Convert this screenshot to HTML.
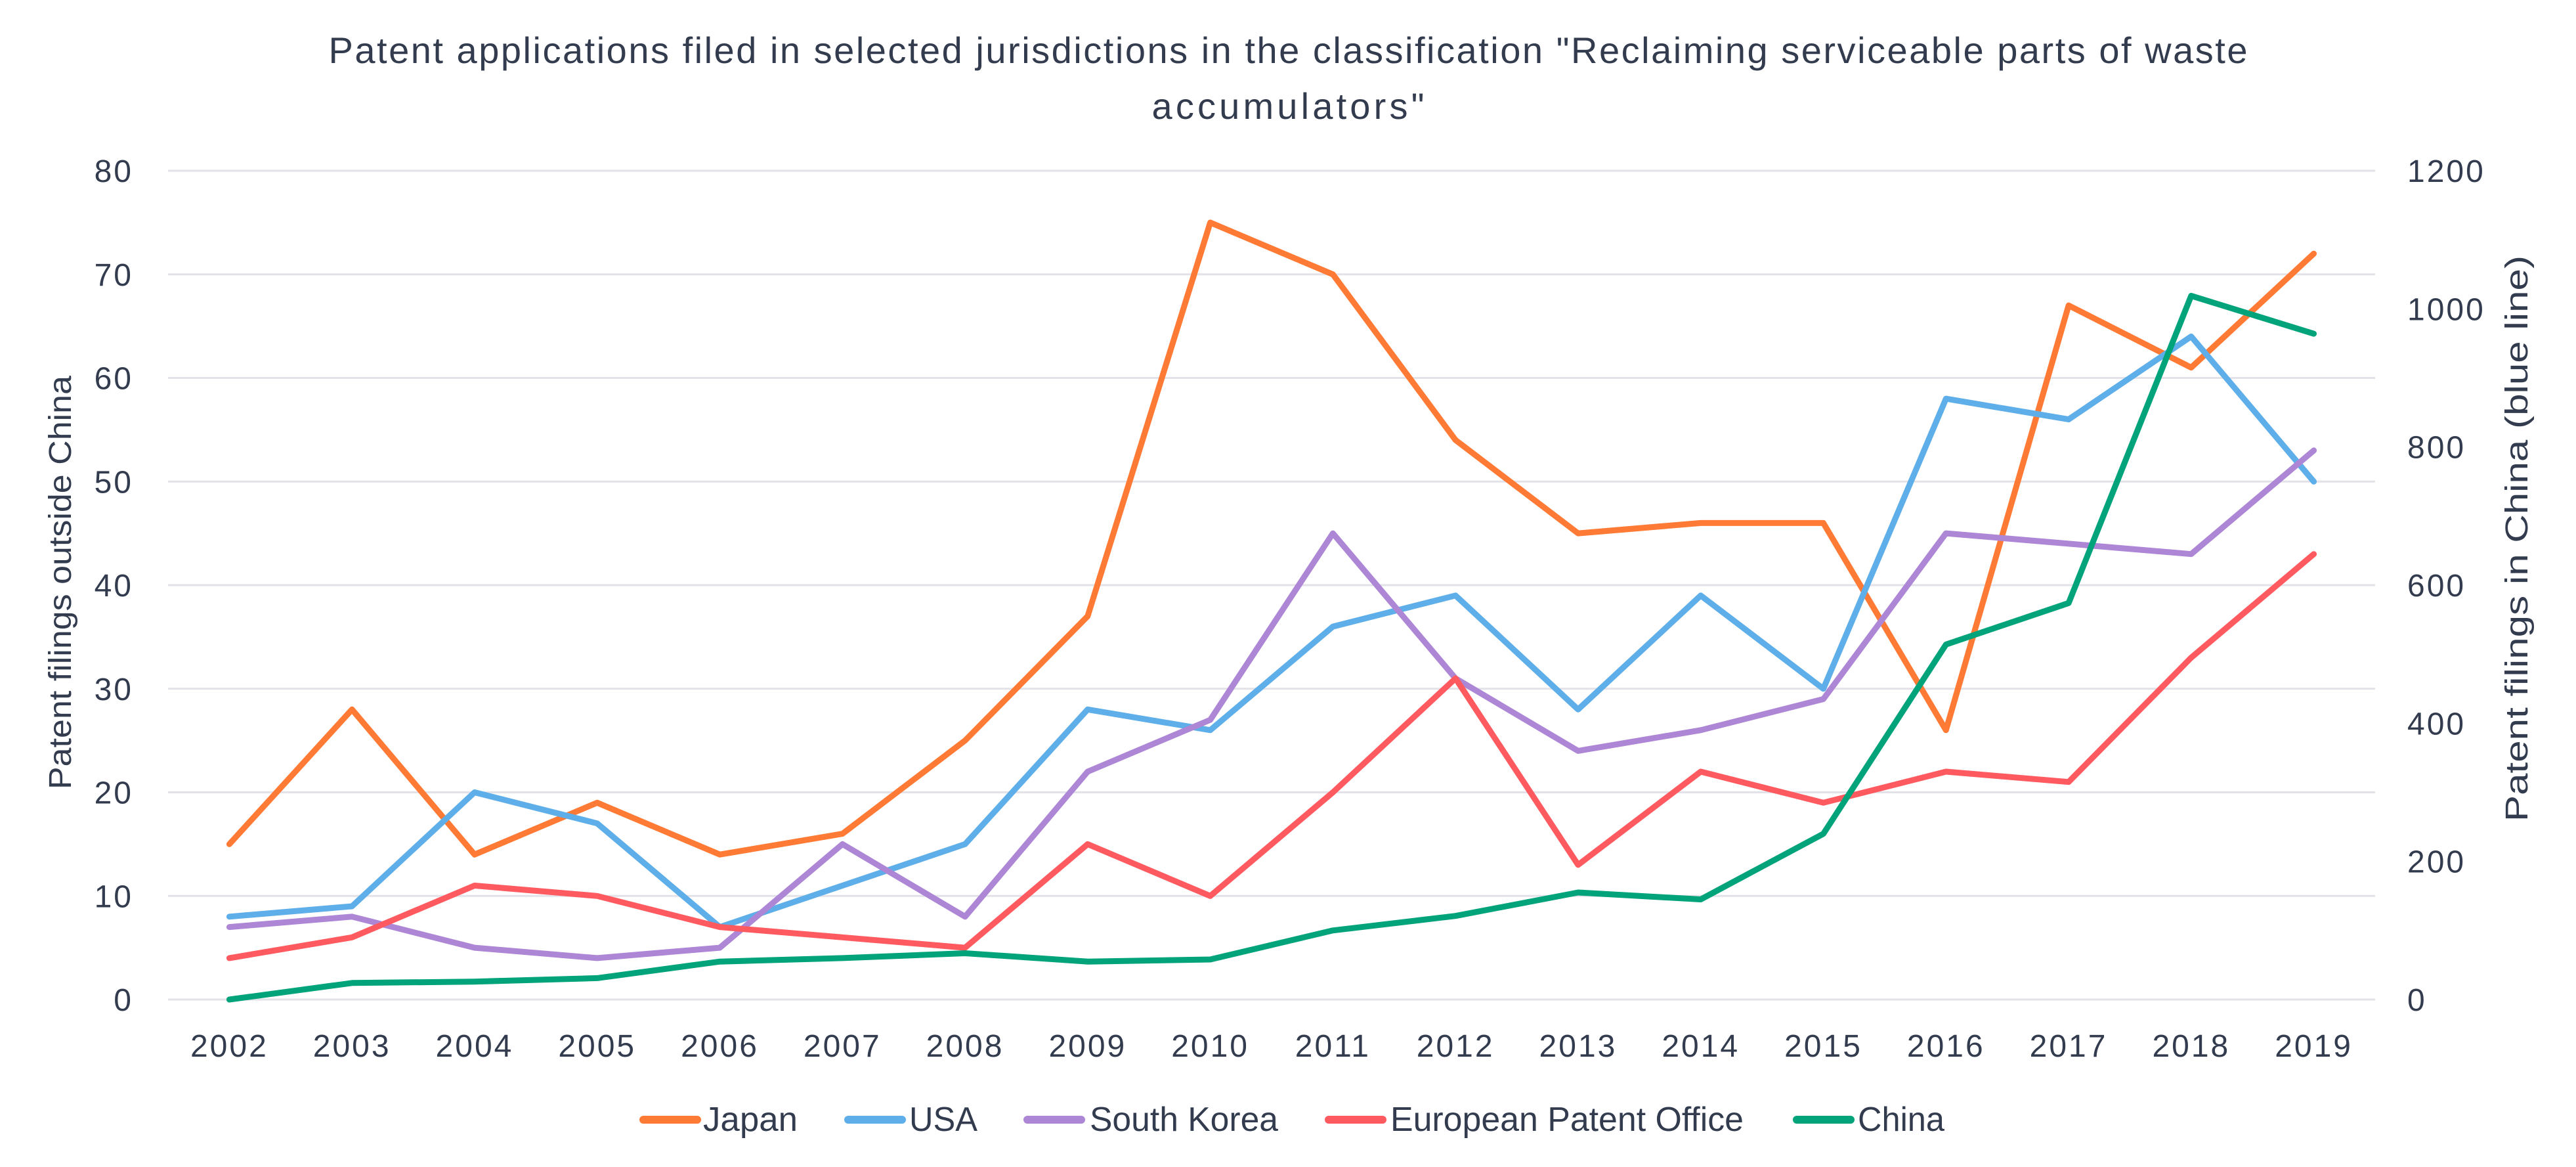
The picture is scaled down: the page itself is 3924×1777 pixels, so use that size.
<!DOCTYPE html>
<html><head><meta charset="utf-8"><style>
html,body{margin:0;padding:0;background:#fff}
svg{display:block}
text{font-family:"Liberation Sans",sans-serif;fill:#333c4e}
</style></head><body>
<svg id="chart" width="3924" height="1777" viewBox="0 0 3924 1777" xmlns="http://www.w3.org/2000/svg">
<g id="title">
<text x="1962" y="96" text-anchor="middle" font-size="56" textLength="2923" lengthAdjust="spacing">Patent applications filed in selected jurisdictions in the classification "Reclaiming serviceable parts of waste</text>
<text x="1962" y="181" text-anchor="middle" font-size="56" textLength="415" lengthAdjust="spacing">accumulators"</text>
</g>
<g id="grid"></g>
<g id="yleft"></g>
<g id="yright"></g>
<g id="xaxis"></g>
<g id="series"></g>
<text x="0" y="0" font-size="48" text-anchor="middle" textLength="630" lengthAdjust="spacingAndGlyphs" transform="translate(108,887) rotate(-90)">Patent filings outside China</text>
<text x="0" y="0" font-size="48" text-anchor="middle" textLength="862" lengthAdjust="spacingAndGlyphs" transform="translate(3850,820) rotate(-90)">Patent filings in China (blue line)</text>
<g id="legend"></g>
</svg>
<script>
const years = ["2002","2003","2004","2005","2006","2007","2008","2009","2010","2011","2012","2013","2014","2015","2016","2017","2018","2019"];
const japan = [15,28,14,19,14,16,25,37,75,70,54,45,46,46,26,67,61,72];
const usa = [8,9,20,17,7,11,15,28,26,36,39,28,39,30,58,56,64,50];
const southKorea = [7,8,5,4,5,15,8,22,27,45,31,24,26,29,45,44,43,53];
const epo = [4,6,11,10,7,6,5,15,10,20,31,13,22,19,22,21,33,43];
const china = [0,24,26,31,55,60,67,55,58,100,121,155,145,240,514,574,1019,964];
const leftTicks = [0,10,20,30,40,50,60,70,80];
const rightTicks = [0,200,400,600,800,1000,1200];

const NS="http://www.w3.org/2000/svg";
const L=256,R=3618,Y0=1522,Y1=260;
const band=(R-L)/years.length;
const xs=i=>L+band*(i+0.5);
const yl=v=>Y0-(v/80)*(Y0-Y1);
const yr=v=>Y0-(v/1200)*(Y0-Y1);
function mk(tag,attrs,parent,txt){const e=document.createElementNS(NS,tag);for(const k in attrs)e.setAttribute(k,attrs[k]);if(txt!==undefined)e.textContent=txt;parent.appendChild(e);return e;}
const grid=document.getElementById('grid'),yle=document.getElementById('yleft'),yre=document.getElementById('yright'),xa=document.getElementById('xaxis'),ser=document.getElementById('series'),leg=document.getElementById('legend');
leftTicks.forEach(t=>{
  const g=mk('line',{x1:L,x2:R,y1:yl(t),y2:yl(t),stroke:'#e2e2e8','stroke-width':3},grid);
  
  
  const tx=mk('text',{x:203,y:yl(t)+17,'text-anchor':'end','font-size':48,'letter-spacing':3},yle,String(t));
  
  
});
rightTicks.forEach(t=>{
  const tx=mk('text',{x:3667,y:yr(t)+17,'text-anchor':'start','font-size':48,'letter-spacing':3},yre,String(t));
  
  
});
years.forEach((y,i)=>{
  const tx=mk('text',{x:xs(i),y:1609,'text-anchor':'middle','font-size':48,'letter-spacing':3},xa,y);
  
  
});
const defs=[["Japan",japan,"#ff7a35",yl,974,1071,144],["USA",usa,"#5eaee9",yl,1286,1385,104],["South Korea",southKorea,"#ad86d6",yl,1559,1660,287],["European Patent Office",epo,"#ff5a5f",yl,2018,2118,538],["China",china,"#00a37a",yr,2731,2830,132]];
defs.forEach(d=>{
  const pts=d[1].map((v,i)=>xs(i).toFixed(1)+','+d[3](v).toFixed(1)).join(' ');
  const p=mk('polyline',{points:pts,fill:'none',stroke:d[2],'stroke-width':9,'stroke-linejoin':'round','stroke-linecap':'round'},ser);
  
  
  const g=mk('g',{},leg);
  
  
  mk('line',{x1:d[4]+6,x2:d[4]+88,y1:1705,y2:1705,stroke:d[2],'stroke-width':12,'stroke-linecap':'round'},g);
  mk('text',{x:d[5],y:1722,'font-size':52,textLength:d[6],lengthAdjust:'spacingAndGlyphs'},g,d[0]);
});
</script>
</body></html>
